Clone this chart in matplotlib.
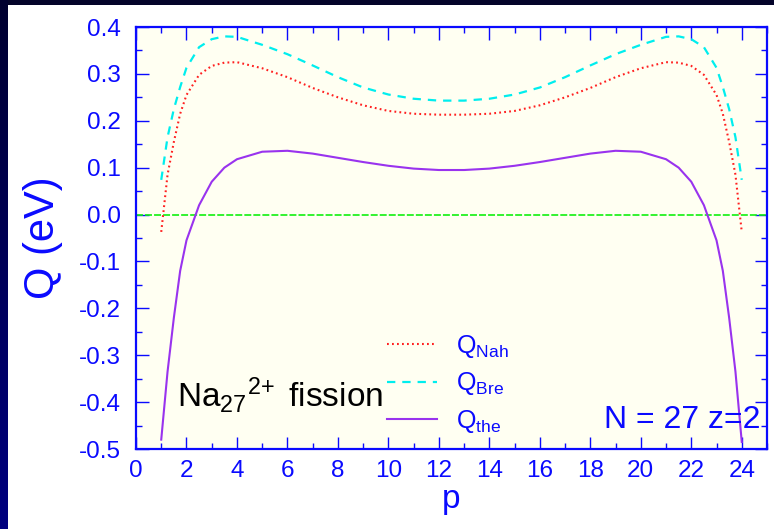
import numpy as np
import matplotlib
matplotlib.use("Agg")
import matplotlib.pyplot as plt
from matplotlib.ticker import MultipleLocator, FormatStrFormatter

plt.rcParams['font.family'] = ['Liberation Sans', 'DejaVu Sans']
plt.rcParams['mathtext.fontset'] = 'custom'
plt.rcParams['mathtext.rm'] = 'Liberation Sans'
plt.rcParams['mathtext.it'] = 'Liberation Sans'
plt.rcParams['axes.unicode_minus'] = False
plt.rcParams['lines.scale_dashes'] = False

# fragment size p and Q-values (eV) for Na27 2+ fission
p = [1, 1.25, 1.5, 1.75, 2, 2.5, 3, 3.5, 4, 5, 6, 7, 8, 9, 10, 11, 12,
     13, 14, 15, 16, 17, 18, 19, 20, 21, 21.5, 22, 22.5, 23, 23.25, 23.5, 23.75, 24]
q_nah = [-0.037, 0.085, 0.155, 0.215, 0.255, 0.298, 0.317, 0.324, 0.325, 0.312, 0.293, 0.270,
         0.250, 0.233, 0.221, 0.215, 0.213,
         0.213, 0.215, 0.221, 0.233, 0.250, 0.270, 0.293, 0.312, 0.325, 0.324, 0.317,
         0.298, 0.255, 0.215, 0.155, 0.085, -0.037]
q_bre = [0.074, 0.165, 0.225, 0.272, 0.313, 0.357, 0.374, 0.380, 0.379, 0.362, 0.342, 0.318,
         0.293, 0.271, 0.256, 0.247, 0.243,
         0.243, 0.247, 0.256, 0.271, 0.293, 0.318, 0.342, 0.362, 0.379, 0.380, 0.374,
         0.357, 0.313, 0.272, 0.225, 0.165, 0.074]
q_the = [-0.48, -0.335, -0.22, -0.12, -0.055, 0.02, 0.07, 0.10, 0.118, 0.134, 0.136, 0.130,
         0.121, 0.112, 0.104, 0.098, 0.095,
         0.095, 0.098, 0.104, 0.112, 0.121, 0.130, 0.136, 0.134, 0.118, 0.10, 0.07,
         0.02, -0.055, -0.12, -0.22, -0.335, -0.485]

blue = '#0a0aff'

fig = plt.figure(figsize=(7.74, 5.29), dpi=100, facecolor='white')

# dark frame strips
top = fig.add_axes([0, 1 - 5 / 529, 1, 5 / 529])
top.set_axis_off()
top.add_patch(plt.Rectangle((0, 0), 1, 1, color='#04042a', transform=top.transAxes))
side = fig.add_axes([0, 0, 8 / 774, 1])
grad = np.linspace(0, 1, 256).reshape(-1, 1)
side.imshow(grad, aspect='auto', cmap=matplotlib.colors.LinearSegmentedColormap.from_list(
    'navy', ['#000030', '#000080']), extent=[0, 1, 0, 1], origin='upper')
side.set_axis_off()

ax = fig.add_axes([136 / 774, 80 / 529, 631 / 774, 422 / 529])
ax.set_facecolor('#fffff2')

ax.axhline(0.0, color='#10f010', lw=1.2, dashes=(5, 1.5))
ax.plot(p, q_nah, color='#ff2020', lw=1.5, dashes=(1.3, 2.3), label=r'Q$_{\rm Nah}$')
ax.plot(p, q_bre, color='#00eeee', lw=1.6, dashes=(6, 5), label=r'Q$_{\rm Bre}$')
ax.plot(p, q_the, color='#9933ee', lw=1.5, label=r'Q$_{\rm the}$')

ax.set_xlim(0, 25)
ax.set_ylim(-0.5, 0.4)
ax.xaxis.set_major_locator(MultipleLocator(2))
ax.xaxis.set_minor_locator(MultipleLocator(1))
ax.yaxis.set_major_locator(MultipleLocator(0.1))
ax.yaxis.set_minor_locator(MultipleLocator(0.05))
ax.yaxis.set_major_formatter(FormatStrFormatter('%.1f'))

ax.tick_params(which='both', direction='in', top=True, right=True, color=blue,
               labelcolor=blue, labelsize=17.5, width=1.0)
ax.tick_params(which='major', length=9)
ax.tick_params(which='minor', length=4.5)
ax.tick_params(axis='x', pad=8)
ax.tick_params(axis='y', pad=11)
for s in ax.spines.values():
    s.set_color(blue)
    s.set_linewidth(1.6)

ax.set_xlabel('p', fontsize=24, color=blue)
ax.set_ylabel('Q (eV)', fontsize=30, color=blue)
ax.xaxis.set_label_coords(0.5, -0.083)
ax.yaxis.set_label_coords(-0.115, 0.5)

ax.text(0.0645, 0.0995, r'Na$_{27}$$^{2{+}}\,$ fission', transform=ax.transAxes,
        fontsize=24, color='black', va='baseline', ha='left')
ax.text(0.989, 0.05, 'N = 27 z=2', transform=ax.transAxes,
        fontsize=23, color=blue, va='baseline', ha='right')

leg = ax.legend(loc='upper left', bbox_to_anchor=(0.398, 0.275), frameon=False,
                fontsize=18, handlelength=2.0, handletextpad=0.75, labelspacing=0.42,
                borderpad=0, borderaxespad=0)
for t in leg.get_texts():
    t.set_color(blue)

fig.savefig('out.png', dpi=100, facecolor=fig.get_facecolor())
